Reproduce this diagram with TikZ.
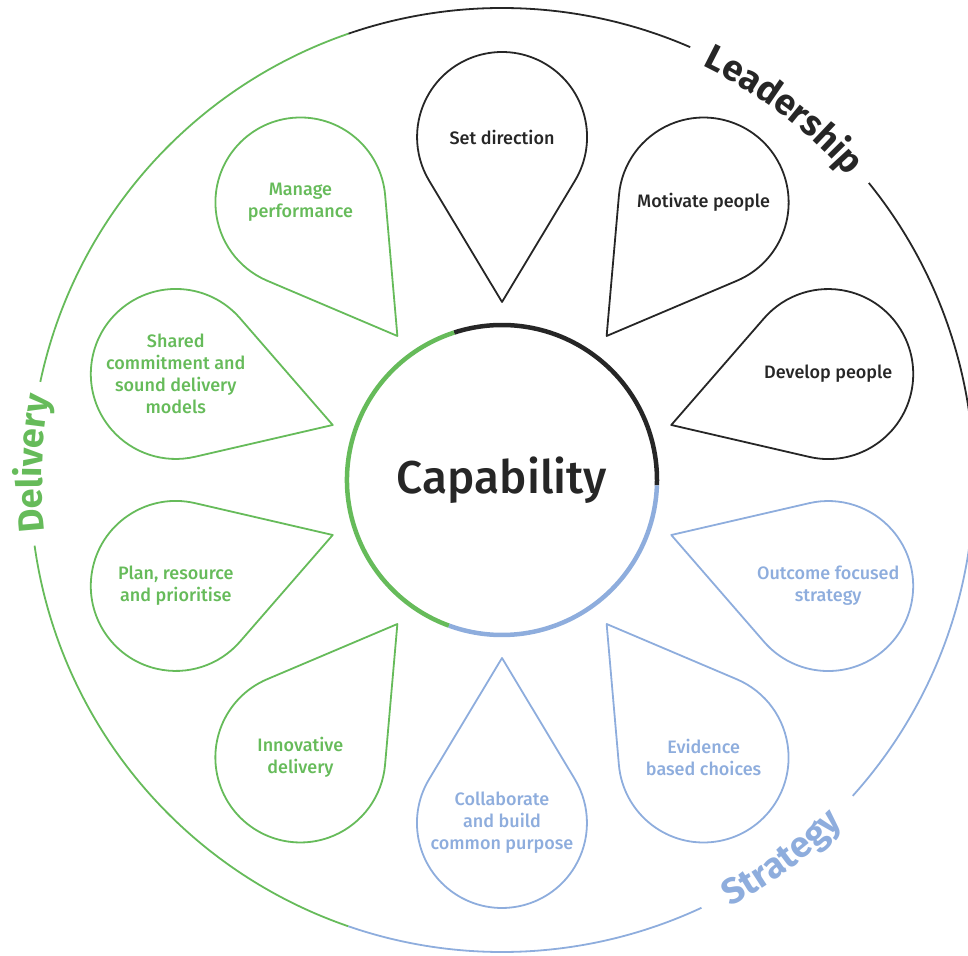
\documentclass[tikz,border=0pt]{standalone}
\usepackage{fontspec}
\setmainfont{Fira Sans}
\newfontfamily\firamed{Fira Sans Medium}
\usetikzlibrary{decorations.text}
\definecolor{lead}{HTML}{262626}
\definecolor{deliv}{HTML}{66BB5A}
\definecolor{strat}{HTML}{8EADDD}

\begin{document}
\begin{tikzpicture}[x=1pt, y=1pt,
    petal/.style={line width=1.8pt, line join=round},
    ptext/.style={align=center, font=\firamed\fontsize{18}{22}\selectfont},
    ring/.style={line width=4.5pt},
    rim/.style={line width=1.8pt},
    lbl/.style n args={2}{decorate, decoration={text along path, text align=center, text color=#1,
        text={|\fontsize{36}{36}\bfseries\selectfont|#2}}}]
  \useasboundingbox (0,0) rectangle (968,955);
  \coordinate (C) at (502,475);
  \foreach \a/\c/\t [count=\i] in {90/lead/Set direction, 54/lead/Motivate people, 18/lead/Develop people,
      -18/strat/{Outcome focused\\strategy}, -54/strat/{Evidence\\based choices},
      -90/strat/{Collaborate\\and build\\common purpose}, 234/deliv/{Innovative\\delivery},
      198/deliv/{Plan, resource\\and prioritise}, 162/deliv/{Shared\\commitment and\\sound delivery\\models},
      126/deliv/{Manage\\performance}}{
    \begin{scope}[shift={(C)}, rotate=\a]
      \draw[petal, \c] (178,0) -- (299.2,-72.9) arc[start angle=-121, end angle=121, radius=85] -- cycle;
      \node[ptext, text=\c] (p\i) at (343,0) {\t};
    \end{scope}
  }
  \node[font=\firamed\fontsize{46}{50}\selectfont, text=lead] (cap) at (C) {Capability};
  \foreach \s/\e/\c in {-2/108/lead, 108/250/deliv, 250/358/strat}
    \draw[ring, \c] ([shift={(\s:155)}]C) arc[start angle=\s, end angle=\e, radius=155];
  \foreach \s/\e/\c in {-2/39/lead, 66.5/109/lead, 109/168/deliv, 188/251/deliv, 251/295/strat, 318/358/strat}
    \draw[rim, \c] ([shift={(\s:472)}]C) arc[start angle=\s, end angle=\e, radius=472];
  \path[lbl={lead}{Leadership}] ([shift={(72.7:460)}]C) arc[start angle=72.7, end angle=32.7, radius=460];
  \path[lbl={deliv}{Delivery}] ([shift={(198:460)}]C) arc[start angle=198, end angle=158, radius=460];
  \path[lbl={strat}{Strategy}] ([shift={(-73.5:484)}]C) arc[start angle=-73.5, end angle=-33.5, radius=484];
\end{tikzpicture}
\end{document}
